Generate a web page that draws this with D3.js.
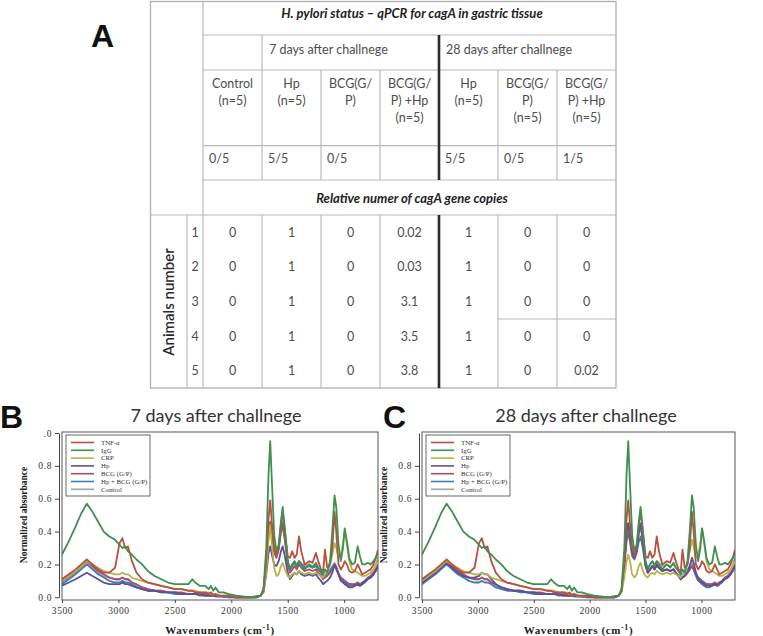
<!DOCTYPE html>
<html>
<head>
<meta charset="utf-8">
<script src="https://cdn.jsdelivr.net/npm/d3@7"></script>
<style>
  body { margin: 0; background: #fff; }
  svg { display: block; }
</style>
</head>
<body>
<svg width="763" height="636"></svg>
<script>
const svg = d3.select("svg");
const sans = "Lato, 'Open Sans', sans-serif";
const serif = "'Liberation Serif', 'DejaVu Serif', serif";

// ---- table data (panel A)
const tableTitle = "H. pylori status – qPCR for cagA in gastric tissue";
const copiesTitle = "Relative numer of cagA gene copies";
const groupNames = ["7 days after challnege", "28 days after challnege"];
const groupFirstCol = [1, 4];
const columnLabels = [
  ["Control", "(n=5)"],
  ["Hp", "(n=5)"],
  ["BCG(G/", "P)"],
  ["BCG(G/", "P) +Hp", "(n=5)"],
  ["Hp", "(n=5)"],
  ["BCG(G/", "P)", "(n=5)"],
  ["BCG(G/", "P) +Hp", "(n=5)"]
];
const positiveRatio = ["0/5", "5/5", "0/5", "", "5/5", "0/5", "1/5"];
const animals = [1, 2, 3, 4, 5];
const geneCopies = [
  [0, 1, 0, 0.02, 1, 0, 0],
  [0, 1, 0, 0.03, 1, 0, 0],
  [0, 1, 0, 3.1, 1, 0, 0],
  [0, 1, 0, 3.5, 1, 0, 0],
  [0, 1, 0, 3.8, 1, 0, 0.02]
];

// ---- spectra data (panels B and C)
const wavenumbers = [3500, 3440, 3380, 3330, 3280, 3230, 3180, 3130, 3080, 3030,
  2990, 2965, 2940, 2915, 2880, 2840, 2790, 2740,
  2680, 2620, 2560, 2500, 2440, 2380, 2345, 2320, 2280, 2230, 2200, 2180, 2160, 2140, 2110, 2070, 2020,
  1960, 1900, 1840, 1780, 1740, 1715,
  1690, 1670, 1655, 1640, 1620, 1600, 1580, 1560, 1545, 1525, 1500, 1480, 1460, 1440, 1420, 1400, 1380,
  1350, 1310, 1280, 1250, 1230, 1205, 1185, 1170, 1150, 1125, 1105, 1085,
  1070, 1050, 1030, 1010, 995, 975, 955, 930, 905, 880, 860, 840, 815, 790, 765, 740, 720, 700];

const tnf = [.11, .14, .17, .20, .23, .20, .17, .15, .15, .18,
  .33, .36, .30, .31, .22, .15, .11, .09,
  .08, .07, .06, .05, .05, .04, .04, .03, .03, .03, .02, .03, .01, .02, .01, .01, .01,
  0, 0, 0, .005, .01, .04,
  .22, .48, .59, .45, .30, .25, .30, .45, .52, .40, .25, .24, .28, .24, .26, .37, .28,
  .20, .22, .21, .27, .22, .17, .16, .29, .18, .20, .30, .52,
  .40, .20, .17, .19, .22, .20, .16, .15, .16, .20, .17, .14, .15, .16, .17, .20, .24, .29];

const igg = [.26, .34, .43, .51, .57, .52, .46, .40, .37, .35,
  .32, .30, .31, .28, .26, .23, .20, .16,
  .13, .11, .09, .08, .08, .08, .11, .09, .07, .07, .05, .07, .04, .06, .03, .03, .02,
  .01, .005, 0, .005, .01, .05,
  .30, .75, .95, .70, .38, .28, .32, .46, .55, .42, .22, .17, .20, .22, .19, .22, .20,
  .17, .20, .18, .21, .18, .16, .14, .17, .15, .22, .40, .62,
  .55, .32, .22, .30, .42, .34, .24, .20, .21, .31, .25, .20, .20, .21, .20, .22, .24, .27];

const crpB = [.10, .13, .16, .19, .22, .20, .18, .16, .15, .14,
  .14, .15, .14, .14, .12, .11, .10, .09,
  .08, .07, .06, .05, .05, .04, .04, .04, .03, .03, .03, .02, .02, .02, .01, .01, .01,
  .005, 0, 0, .005, .01, .03,
  .15, .35, .44, .32, .18, .13, .14, .19, .21, .17, .13, .12, .14, .15, .14, .16, .15,
  .14, .15, .14, .15, .14, .13, .12, .14, .15, .20, .26, .33,
  .30, .24, .25, .33, .41, .32, .22, .17, .16, .15, .14, .13, .13, .14, .15, .17, .20, .24];

const crpC = [.10, .13, .16, .19, .22, .20, .18, .16, .15, .14,
  .14, .15, .14, .14, .12, .11, .10, .09,
  .08, .07, .06, .05, .05, .04, .04, .04, .03, .03, .03, .02, .02, .02, .01, .01, .01,
  .005, 0, 0, .005, .01, .03,
  .12, .22, .26, .22, .14, .12, .14, .19, .21, .16, .13, .12, .14, .15, .14, .16, .15,
  .14, .15, .14, .15, .14, .13, .12, .14, .15, .20, .28, .35,
  .31, .24, .25, .33, .42, .32, .22, .17, .16, .15, .14, .13, .13, .14, .15, .17, .20, .24];

const hpB = [.07, .09, .11, .13, .15, .13, .11, .09, .08, .08,
  .08, .09, .08, .08, .07, .06, .05, .04,
  .04, .03, .03, .03, .02, .02, .02, .02, .02, .01, .01, .01, .01, .01, .01, .005, .005,
  0, 0, 0, 0, .01, .03,
  .14, .27, .31, .26, .20, .19, .22, .28, .31, .25, .15, .11, .13, .15, .14, .16, .14,
  .13, .14, .13, .14, .12, .10, .08, .09, .10, .12, .15, .20,
  .18, .14, .10, .09, .08, .07, .06, .06, .07, .08, .07, .08, .10, .11, .12, .14, .16, .19];

const hpC = [.09, .12, .15, .18, .21, .18, .15, .13, .12, .12,
  .13, .15, .14, .14, .11, .08, .06, .05,
  .04, .04, .03, .03, .02, .02, .02, .02, .02, .01, .01, .01, .01, .01, .01, .005, .005,
  0, 0, 0, 0, .01, .04,
  .20, .40, .45, .38, .27, .24, .28, .40, .45, .35, .19, .15, .17, .19, .17, .20, .18,
  .16, .17, .16, .17, .15, .13, .11, .12, .13, .15, .19, .24,
  .21, .15, .11, .10, .09, .08, .07, .07, .07, .08, .07, .08, .10, .11, .12, .14, .16, .19];

const bcg = [.10, .13, .16, .19, .22, .19, .16, .14, .12, .11,
  .11, .12, .11, .11, .09, .08, .06, .05,
  .04, .04, .03, .03, .03, .02, .02, .02, .02, .02, .01, .01, .01, .01, .01, .005, .005,
  0, 0, 0, 0, .01, .04,
  .20, .38, .45, .38, .27, .24, .29, .40, .44, .35, .20, .15, .17, .19, .17, .20, .18,
  .16, .17, .16, .17, .15, .13, .11, .12, .13, .15, .17, .19,
  .17, .14, .12, .11, .10, .09, .08, .08, .08, .09, .08, .09, .10, .12, .13, .15, .17, .20];

const hpBcgB = [.08, .11, .14, .17, .20, .17, .14, .12, .10, .09,
  .09, .10, .09, .09, .08, .06, .05, .04,
  .04, .03, .03, .02, .02, .02, .02, .02, .01, .01, .01, .01, .01, .005, .005, .005, 0,
  0, 0, 0, 0, .01, .04,
  .21, .40, .46, .40, .29, .26, .31, .42, .46, .37, .22, .17, .19, .21, .19, .22, .20,
  .18, .19, .18, .19, .17, .15, .12, .13, .14, .16, .18, .20,
  .18, .14, .11, .10, .09, .08, .07, .07, .07, .08, .07, .08, .09, .11, .12, .14, .16, .19];

const hpBcgC = [.08, .11, .14, .17, .20, .17, .14, .12, .10, .09,
  .09, .10, .09, .09, .08, .06, .05, .04,
  .04, .03, .03, .02, .02, .02, .02, .02, .01, .01, .01, .01, .01, .005, .005, .005, 0,
  0, 0, 0, 0, .01, .04,
  .18, .34, .39, .34, .25, .23, .27, .34, .37, .30, .19, .15, .17, .19, .17, .19, .18,
  .16, .17, .16, .17, .15, .13, .11, .12, .13, .15, .17, .19,
  .17, .13, .10, .09, .08, .07, .06, .06, .07, .08, .07, .08, .09, .11, .12, .14, .16, .19];

const control = [.09, .12, .15, .18, .21, .18, .15, .13, .12, .11,
  .11, .12, .11, .11, .09, .07, .06, .05,
  .04, .04, .03, .03, .02, .02, .02, .02, .02, .01, .01, .01, .01, .01, .005, .005, 0,
  0, 0, 0, 0, .01, .04,
  .20, .38, .44, .38, .28, .25, .30, .40, .43, .35, .21, .18, .20, .22, .20, .22, .21,
  .19, .20, .19, .20, .18, .16, .13, .14, .15, .17, .19, .21,
  .19, .15, .12, .11, .10, .09, .08, .08, .08, .09, .08, .09, .10, .12, .13, .15, .17, .20];

const seriesNames = ["TNF-α", "IgG", "CRP", "Hp", "BCG (G/P)", "Hp + BCG (G/P)", "Control"];
const seriesColors = ["#b8503f", "#3f8f4f", "#b9b24a", "#5f4f94", "#a64e6e", "#3f7fb0", "#9ea3ad"];
const valuesB = [tnf, igg, crpB, hpB, bcg, hpBcgB, control];
const valuesC = [tnf, igg, crpC, hpC, bcg, hpBcgC, control];

// ================= panel A: table =================
const tbl = svg.append("g");
const colX = d3.scaleBand().domain(d3.range(7)).range([203, 616]);
const rowY = d3.scaleBand().domain(animals).range([215, 388]);
const bw = colX.bandwidth();

const rule = (x1, y1, x2, y2, w = 1.2, c = "#b9b9b9") =>
  tbl.append("line").attr("x1", x1).attr("y1", y1).attr("x2", x2).attr("y2", y2)
    .attr("stroke", c).attr("stroke-width", w);

// outer frame
tbl.append("rect").attr("x", 150.5).attr("y", 1.5).attr("width", 465.5).attr("height", 386.5)
  .attr("fill", "none").attr("stroke", "#b0b0b0").attr("stroke-width", 1.3);
rule(203, 1.5, 203, 388);
rule(187, 215, 187, 388);
[35, 70, 145.7, 180].forEach(y => rule(203, y, 616, y));
rule(150.5, 215, 616, 215);
rule(colX(1), 35, colX(1), 180);
[2, 3, 5, 6].forEach(i => rule(colX(i), 70, colX(i), 180));
[1, 2, 3, 5, 6].forEach(i => rule(colX(i), 215, colX(i), 388));
rule(colX(5), 319, 616, 319);
rule(colX(4), 35, colX(4), 180, 2.6, "#2b2b2b");
rule(colX(4), 215, colX(4), 388, 2.6, "#2b2b2b");

const txt = (x, y, s, opts = {}) =>
  tbl.append("text").attr("x", x).attr("y", y).text(s)
    .attr("font-family", sans).attr("font-size", opts.size || 12.5)
    .attr("font-weight", opts.weight || "normal").attr("font-style", opts.style || "normal")
    .attr("fill", opts.fill || "#4d4d4d").attr("text-anchor", opts.anchor || "start");

txt(412, 18, tableTitle, { weight: "bold", style: "italic", fill: "#222", anchor: "middle", size: 13 });
txt(412, 203, copiesTitle, { weight: "bold", style: "italic", fill: "#222", anchor: "middle", size: 13 });
groupNames.forEach((g, i) => txt(colX(groupFirstCol[i]) + 7, 53.5, g));
columnLabels.forEach((lines, i) =>
  lines.forEach((s, j) => txt(colX(i) + bw / 2, 88 + j * 17, s, { anchor: "middle" })));
positiveRatio.forEach((s, i) => txt(colX(i) + 6, 163, s));
animals.forEach((a, r) => {
  const cy = rowY(a) + rowY.bandwidth() / 2 + 4.5;
  txt(195, cy, a, { anchor: "middle" });
  geneCopies[r].forEach((v, i) => txt(colX(i) + bw / 2, cy, v, { anchor: "middle" }));
});
tbl.append("text").attr("transform", "translate(174,302) rotate(-90)")
  .attr("text-anchor", "middle").attr("font-family", sans).attr("font-size", 15)
  .attr("font-weight", 600).attr("fill", "#2a2a2a").text("Animals number");

const panelLabel = (x, y, s) =>
  svg.append("text").attr("x", x).attr("y", y).text(s)
    .attr("font-family", "'Liberation Sans', Arial, sans-serif").attr("font-weight", "bold")
    .attr("font-size", 32).attr("fill", "#111");
panelLabel(91, 47, "A");

// ================= panels B and C: spectra =================
function drawSpectra(cfg) {
  const g = svg.append("g");
  const x = d3.scaleLinear().domain([3500, 700]).range([cfg.left, cfg.right]);
  const y = d3.scaleLinear().domain([0, 1]).range([597.3, 433]);
  const clipId = "clip" + cfg.key;
  g.append("clipPath").attr("id", clipId).append("rect")
    .attr("x", cfg.left).attr("y", 431).attr("width", cfg.right - cfg.left).attr("height", 169);

  g.append("text").attr("x", cfg.titleX).attr("y", 422).attr("text-anchor", "middle")
    .attr("font-family", sans).attr("font-size", 18).attr("fill", "#333").text(cfg.title);
  panelLabel(cfg.labelX, 428, cfg.label);

  const lineGen = (vals) => d3.line().x((d, i) => x(wavenumbers[i])).y(d => y(d))(vals);
  const lines = g.append("g").attr("clip-path", `url(#${clipId})`);
  const order = [6, 5, 4, 3, 2, 0, 1];
  order.forEach(k => {
    lines.append("path").attr("d", lineGen(cfg.values[k])).attr("fill", "none")
      .attr("stroke", seriesColors[k]).attr("stroke-width", 1.8).attr("stroke-linejoin", "round");
  });

  g.append("rect").attr("x", cfg.left).attr("y", 432).attr("width", cfg.right - cfg.left)
    .attr("height", 168).attr("fill", "none").attr("stroke", "#555").attr("stroke-width", 1);

  const yAxis = d3.axisLeft(y).tickValues(cfg.yTicks).tickSize(4).tickSizeOuter(0)
    .tickFormat(d => d === 1 ? ".0" : d3.format(".1f")(d));
  const yg = g.append("g").attr("transform", `translate(${cfg.left - 3},0)`).call(yAxis);
  const xAxis = d3.axisBottom(x).tickValues([3500, 3000, 2500, 2000, 1500, 1000])
    .tickFormat(d3.format("d")).tickSize(3).tickSizeOuter(0).tickPadding(4);
  const xg = g.append("g").attr("transform", "translate(0,600)").call(xAxis);
  xg.select(".domain").remove();
  [yg, xg].forEach(a => {
    a.selectAll("text").attr("font-family", serif).attr("font-size", 9.5)
      .attr("fill", "#333").attr("letter-spacing", 0.6);
    a.selectAll("line, path").attr("stroke", "#444");
  });

  g.append("text").attr("transform", `translate(${cfg.left - 35},515) rotate(-90)`)
    .attr("text-anchor", "middle").attr("font-family", serif).attr("font-weight", "bold")
    .attr("font-size", 9.5).attr("fill", "#222").text("Normalized absorbance");
  const xl = g.append("text").attr("x", (cfg.left + cfg.right) / 2).attr("y", 634)
    .attr("text-anchor", "middle").attr("font-family", serif).attr("font-weight", "bold")
    .attr("font-size", 11).attr("letter-spacing", 0.6).attr("fill", "#222");
  xl.append("tspan").text("Wavenumbers (cm");
  xl.append("tspan").attr("dy", -4).attr("font-size", 8).text("-1");
  xl.append("tspan").attr("dy", 4).text(")");

  // legend
  const lg = g.append("g").attr("transform", `translate(${cfg.left + 4},435)`);
  lg.append("rect").attr("width", 84).attr("height", 61).attr("fill", "#fff")
    .attr("stroke", "#444").attr("stroke-width", 0.8);
  seriesNames.forEach((n, i) => {
    const ly = 7.5 + i * 7.8;
    lg.append("line").attr("x1", 5).attr("x2", 28).attr("y1", ly).attr("y2", ly)
      .attr("stroke", seriesColors[i]).attr("stroke-width", 1.6);
    lg.append("text").attr("x", 35).attr("y", ly + 2.3).attr("font-family", serif)
      .attr("font-size", 6.8).attr("fill", "#333").text(n);
  });
}

drawSpectra({ key: "B", left: 62, right: 378, values: valuesB, title: "7 days after challnege",
  titleX: 216, label: "B", labelX: 0, yTicks: [0, 0.2, 0.4, 0.6, 0.8, 1.0] });
drawSpectra({ key: "C", left: 422, right: 735, values: valuesC, title: "28 days after challnege",
  titleX: 586, label: "C", labelX: 383, yTicks: [0, 0.2, 0.4, 0.6, 0.8] });
</script>
</body>
</html>
